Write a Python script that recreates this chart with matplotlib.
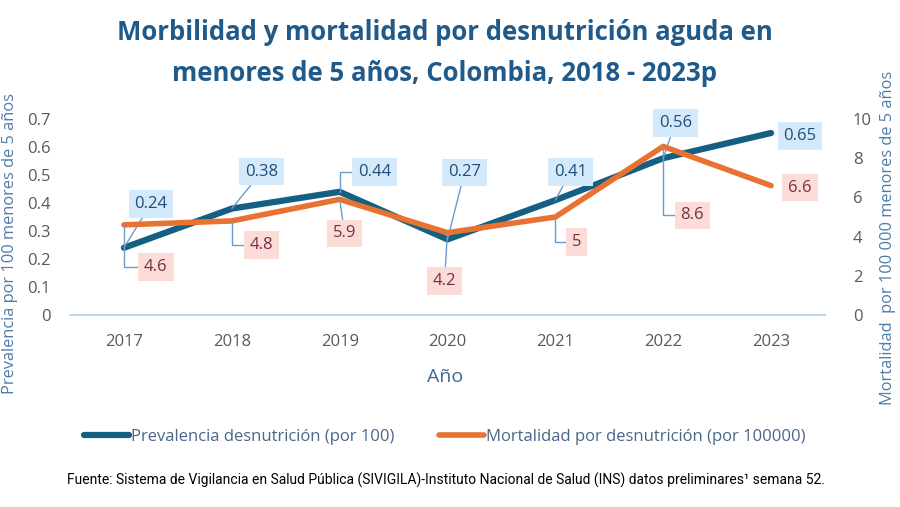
import matplotlib
matplotlib.use("Agg")
import matplotlib.pyplot as plt
from matplotlib.lines import Line2D

years = ["2017", "2018", "2019", "2020", "2021", "2022", "2023"]
prevalencia = [0.24, 0.38, 0.44, 0.27, 0.41, 0.56, 0.65]
mortalidad = [4.6, 4.8, 5.9, 4.2, 5.0, 8.6, 6.6]
prev_labels = ["0.24", "0.38", "0.44", "0.27", "0.41", "0.56", "0.65"]
mort_labels = ["4.6", "4.8", "5.9", "4.2", "5", "8.6", "6.6"]
left_ticks = [0, 0.1, 0.2, 0.3, 0.4, 0.5, 0.6, 0.7]
left_ticklabels = ["0", "0.1", "0.2", "0.3", "0.4", "0.5", "0.6", "0.7"]
right_ticks = [0, 2, 4, 6, 8, 10]

# label offsets in pixels (dx right, dy up) and leader style
prev_off = [(27, 44), (30, 37), (35, 20), (17, 67), (15, 28), (12, 35), (29, -3)]
prev_conn = ["arc3", "arc3", "elbow", "arc3", "arc3", "arc3", None]
mort_off = [(32, -42), (30, -24), (5, -34), (-3, -48), (21, -25), (29, -69), (29, -2)]
mort_conn = ["elbow", "elbow", "arc3", "arc3", "elbow", "elbow", None]

BLUE = "#156082"
ORANGE = "#E97132"
TITLE_C = "#1f5a8a"
LABEL_C = "#4f7ca8"
TICK_C = "#595959"
LEADER = "#6a9ccc"

plt.rcParams["font.family"] = ["Open Sans", "DejaVu Sans"]

fig = plt.figure(figsize=(9, 5.07), dpi=100)
ax = fig.add_axes([70 / 900, 1 - 315 / 507, 755 / 900, 196 / 507])
ax2 = ax.twinx()

x = list(range(len(years)))
ax.plot(x, prevalencia, color=BLUE, lw=4.5, solid_capstyle="round", solid_joinstyle="round", zorder=3)
ax2.plot(x, mortalidad, color=ORANGE, lw=4, solid_capstyle="round", solid_joinstyle="round", zorder=3)

ax.set_xlim(-0.5, 6.5)
ax.set_ylim(0, 0.7)
ax2.set_ylim(0, 10)
ax.set_xticks(x)
ax.set_xticklabels(years)
ax.set_yticks(left_ticks)
ax.set_yticklabels(left_ticklabels)
ax2.set_yticks(right_ticks)

for a in (ax, ax2):
    for s in a.spines.values():
        s.set_visible(False)
    a.tick_params(length=0, labelsize=12, labelcolor=TICK_C)
ax.spines["bottom"].set_visible(True)
ax.spines["bottom"].set_color("#bdd7ee")
ax.spines["bottom"].set_linewidth(1.5)
ax.tick_params(axis="x", pad=14)
ax.tick_params(axis="y", pad=14)
ax2.tick_params(axis="y", pad=20)


def px2pt(v):
    return v * 72 / 100


def add_labels(a, vals, labels, offs, conns, tcolor, fcolor):
    for i, (v, lab, off, cs) in enumerate(zip(vals, labels, offs, conns)):
        dx, dy = off
        kw = {}
        if cs is not None:
            if cs == "elbow":
                conn = "angle,angleA=0,angleB=90,rad=0"
                rel = (0, 0.5)
            else:
                conn = "arc3"
                rel = (0.5, 0.5)
            kw["arrowprops"] = dict(arrowstyle="-", color=LEADER, lw=1.0,
                                    connectionstyle=conn, relpos=rel,
                                    shrinkA=0, shrinkB=0)
        a.annotate(lab, xy=(i, v), xytext=(px2pt(dx), px2pt(dy)),
                   textcoords="offset points", ha="center", va="center",
                   fontsize=12, color=tcolor, zorder=5,
                   bbox=dict(boxstyle="square,pad=0.35", fc=fcolor, ec="none"),
                   **kw)


add_labels(ax, prevalencia, prev_labels, prev_off, prev_conn, "#1f4e79", "#d4e9f9")
add_labels(ax2, mortalidad, mort_labels, mort_off, mort_conn, "#7b2c4a", "#fbdcd6")

fig.text(445 / 900, 1 - 33 / 507, "Morbilidad y mortalidad por desnutrición aguda en",
         ha="center", va="center", fontsize=18.5, fontweight="bold", color=TITLE_C)
fig.text(445 / 900, 1 - 73 / 507, "menores de 5 años, Colombia, 2018 - 2023p",
         ha="center", va="center", fontsize=18.5, fontweight="bold", color=TITLE_C)

fig.text(10 / 900, 1 - 244 / 507, "Prevalencia por 100 menores de 5 años",
         rotation=90, ha="center", va="center", fontsize=11.8, color=LABEL_C)
fig.text(888 / 900, 1 - 238 / 507, "Mortalidad  por 100 000 menores de 5 años",
         rotation=90, ha="center", va="center", fontsize=11.8, color=LABEL_C)
fig.text(445 / 900, 1 - 377 / 507, "Año", ha="center", va="center",
         fontsize=14, color="#3f6a94")

handles = [Line2D([], [], color=BLUE, lw=4.5, solid_capstyle="round"),
           Line2D([], [], color=ORANGE, lw=4, solid_capstyle="round")]
leg = fig.legend(handles, ["Prevalencia desnutrición (por 100)",
                           "Mortalidad por desnutrición (por 100000)"],
                 loc="center", bbox_to_anchor=(445 / 900, 1 - 437 / 507), ncol=2,
                 frameon=False, fontsize=12, handlelength=2.7, handletextpad=0.1,
                 columnspacing=2.7, labelcolor="#4a6688")

fig.text(446 / 900, 1 - 480 / 507,
         "Fuente: Sistema de Vigilancia en Salud Pública (SIVIGILA)-Instituto Nacional de Salud (INS) datos preliminares¹ semana 52.",
         ha="center", va="center", fontsize=10, color="black",
         family=["Roboto", "DejaVu Sans"], fontstretch="condensed")

fig.savefig("out.png", dpi=100, facecolor="white")
